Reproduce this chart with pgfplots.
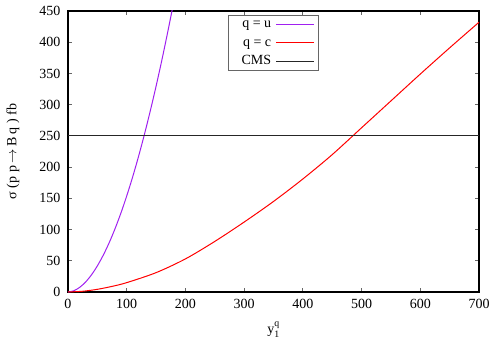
\documentclass[border=0pt]{standalone}
\usepackage{fontspec}
\setmainfont{Liberation Serif}
\usepackage{amsmath}
\usepackage{pgfplots}
\pgfplotsset{compat=1.18}
\definecolor{gpviolet}{RGB}{160,32,240}
\definecolor{gpred}{RGB}{255,0,0}
\begin{document}
\begin{tikzpicture}
\begin{axis}[name=ax, scale only axis, width=411bp, height=281bp,
  xmin=0, xmax=700, ymin=0, ymax=450,
  xtick={0,100,...,700}, ytick={0,50,...,450},
  tick align=inside, major tick length=4bp,
  tick style={black!60, line width=0.8bp},
  axis line style={line width=1.2bp, black},
  ticklabel style={font=\fontsize{14bp}{16bp}\selectfont},
  yticklabel style={xshift=-4bp},
  xticklabel style={yshift=-4bp},
  /pgf/number format/assume math mode=true,
  xlabel={$\textup{y}_{\textup{1}}^{\textup{q}}$},
  ylabel={σ (p p\,$\rightarrow$\,B q ) fb},
  label style={font=\fontsize{14bp}{16bp}\selectfont},
  xlabel style={at={(axis description cs:0.5,-38/281)}, anchor=center},
  ylabel style={at={(axis description cs:-55/411,0.5)}, anchor=center},
  legend plot pos=right,
  legend cell align=right,
  legend image code/.code={\draw[#1] (0bp,0bp) -- (38bp,0bp);},
  legend style={at={(0.5,0.986)}, anchor=north, draw=black!60, line width=0.8bp,
    font=\fontsize{14bp}{16bp}\selectfont, row sep=5.5bp, inner xsep=3.5bp, inner ysep=2.5bp,
    nodes={inner xsep=4.5bp, inner ysep=0bp, text height=10bp, text depth=3bp}},
]
\addplot[gpviolet, line width=1bp, smooth] coordinates {
(0,0) (10,2.0) (20,7.5) (30,16.0) (40,27.5) (50,41.8) (60,58.9) (70,78.6)
(80,101.1) (90,126.1) (100,153.8) (110,183.9) (120,216.6) (130,251.8)
(140,289.5) (150,329.5) (160,372) (170,417) (178,454.6)};
\addlegendentry{\hspace*{5bp}q = u}
\addplot[gpred, line width=1bp, smooth] coordinates {
(0,0) (25,1.2) (50,4.3) (75,9) (100,15) (150,31) (200,53) (250,81) (300,112)
(350,145) (400,181) (450,220) (500,263) (550,306) (600,349) (650,391) (700,432)};
\addlegendentry{\hspace*{5bp}q = c}
\addplot[black!85, line width=1.2bp] coordinates {(0,250) (700,250)};
\addlegendentry{\hspace*{5bp}CMS}
\end{axis}
\pgfresetboundingbox
\path[use as bounding box] (ax.south west) ++(-68bp,-48bp) rectangle ++(498bp,340bp);
\end{tikzpicture}
\end{document}
